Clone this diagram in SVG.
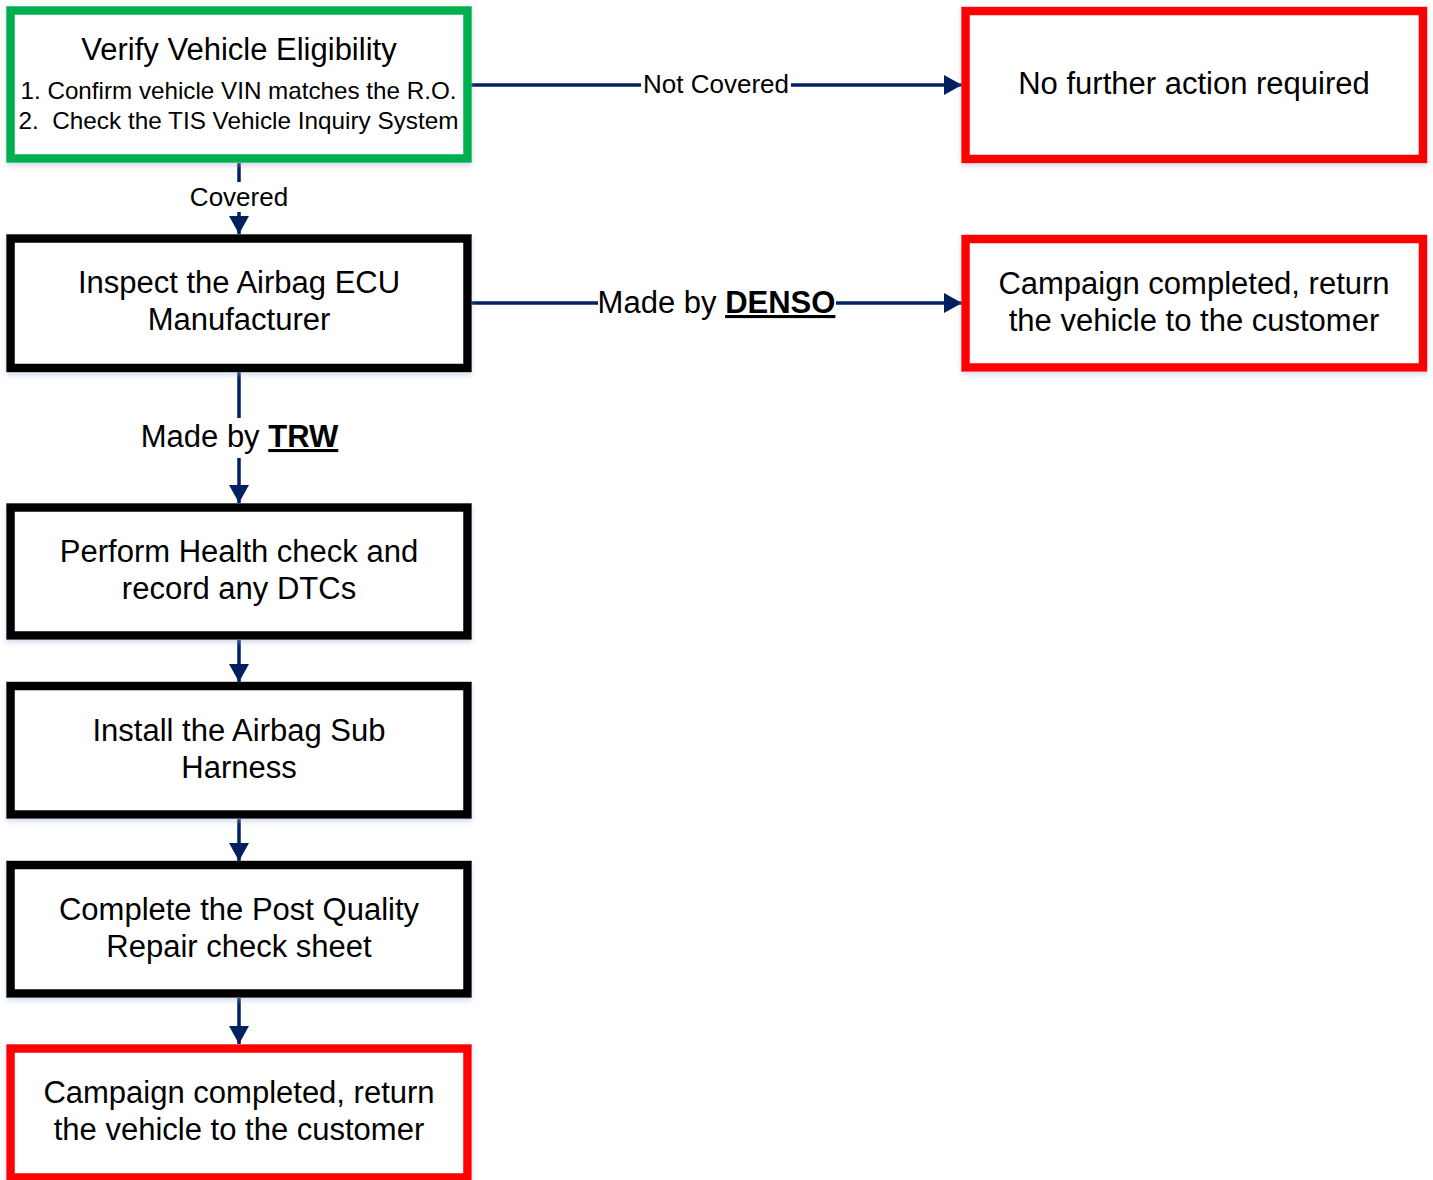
<svg xmlns="http://www.w3.org/2000/svg" width="1433" height="1180" viewBox="0 0 1433 1180">
  <defs>
    <filter id="sh" x="-5%" y="-5%" width="110%" height="120%">
      <feDropShadow dx="0" dy="3" stdDeviation="2.5" flood-color="#9fb4d8" flood-opacity="0.45"/>
    </filter>
    <marker id="arr" markerUnits="userSpaceOnUse" markerWidth="20" markerHeight="22" refX="18" refY="10" orient="auto" viewBox="0 0 20 20">
      <path d="M0,0 L18,10 L0,20 Z" fill="#002060"/>
    </marker>
  </defs>
  <style>
    .box { fill: #ffffff; stroke-width: 8.5; filter: url(#sh); }
    .green { stroke: #00b050; }
    .black { stroke: #000000; }
    .red { stroke: #ff0000; }
    .t { font-family: "Liberation Sans", Arial, sans-serif; font-size: 31px; fill: #000; text-anchor: middle; }
    .s { font-family: "Liberation Sans", Arial, sans-serif; font-size: 24px; fill: #000; text-anchor: middle; white-space: pre; }
    .lbl { font-family: "Liberation Sans", Arial, sans-serif; font-size: 26px; fill: #000; text-anchor: middle; }
    .lbl31 { font-family: "Liberation Sans", Arial, sans-serif; font-size: 31px; fill: #000; text-anchor: middle; }
    .b { font-weight: bold; text-decoration: underline; }
    .c { stroke: #002060; stroke-width: 3.5; fill: none; }
    .ca { stroke: #002060; stroke-width: 3.5; fill: none; marker-end: url(#arr); }
  </style>
  <rect width="1433" height="1180" fill="#ffffff"/>

  <g id="connectors">
    <line class="c" x1="239" y1="163" x2="239" y2="182"/>
    <line class="ca" x1="239" y1="212" x2="239" y2="234"/>
    <line class="c" x1="467" y1="85" x2="641" y2="85"/>
    <line class="ca" x1="791" y1="85" x2="962" y2="85"/>
    <line class="c" x1="467" y1="303" x2="598" y2="303"/>
    <line class="ca" x1="836" y1="303" x2="962" y2="303"/>
    <line class="c" x1="239" y1="372" x2="239" y2="418"/>
    <line class="ca" x1="239" y1="458" x2="239" y2="503"/>
    <line class="ca" x1="239" y1="640" x2="239" y2="682"/>
    <line class="ca" x1="239" y1="819" x2="239" y2="861"/>
    <line class="ca" x1="239" y1="998" x2="239" y2="1044"/>
    <text class="lbl" x="239" y="206">Covered</text>
    <text class="lbl" x="716" y="93">Not Covered</text>
    <text class="lbl31" x="716.5" y="313">Made by <tspan class="b">DENSO</tspan></text>
    <text class="lbl31" x="239.5" y="447">Made by <tspan class="b">TRW</tspan></text>
  </g>

  <g id="verify">
    <rect class="box green" x="10.5" y="10.5" width="457" height="148"/>
    <text class="t" x="239" y="60">Verify Vehicle Eligibility</text>
    <text class="s" x="238.5" y="99" textLength="436" lengthAdjust="spacingAndGlyphs">1. Confirm vehicle VIN matches the R.O.</text>
    <text class="s" x="238.5" y="129" textLength="440" lengthAdjust="spacingAndGlyphs">2.  Check the TIS Vehicle Inquiry System</text>
  </g>

  <g id="no-action">
    <rect class="box red" x="965.5" y="11" width="457.5" height="148"/>
    <text class="t" x="1194" y="94">No further action required</text>
  </g>

  <g id="inspect">
    <rect class="box black" x="10.5" y="238.5" width="457" height="129.5"/>
    <text class="t" x="239" y="293">Inspect the Airbag ECU</text>
    <text class="t" x="239" y="330">Manufacturer</text>
  </g>

  <g id="campaign-denso">
    <rect class="box red" x="965.5" y="239" width="457.5" height="128.5"/>
    <text class="t" x="1194" y="294">Campaign completed, return</text>
    <text class="t" x="1194" y="331">the vehicle to the customer</text>
  </g>

  <g id="health">
    <rect class="box black" x="10.5" y="507.5" width="457" height="128"/>
    <text class="t" x="239" y="562">Perform Health check and</text>
    <text class="t" x="239" y="599">record any DTCs</text>
  </g>

  <g id="install">
    <rect class="box black" x="10.5" y="686" width="457" height="128.5"/>
    <text class="t" x="239" y="741">Install the Airbag Sub</text>
    <text class="t" x="239" y="778">Harness</text>
  </g>

  <g id="post-quality">
    <rect class="box black" x="10.5" y="865" width="457" height="128.5"/>
    <text class="t" x="239" y="920">Complete the Post Quality</text>
    <text class="t" x="239" y="957">Repair check sheet</text>
  </g>

  <g id="campaign-trw">
    <rect class="box red" x="10.5" y="1048.5" width="457" height="129"/>
    <text class="t" x="239" y="1103">Campaign completed, return</text>
    <text class="t" x="239" y="1140">the vehicle to the customer</text>
  </g>
</svg>
